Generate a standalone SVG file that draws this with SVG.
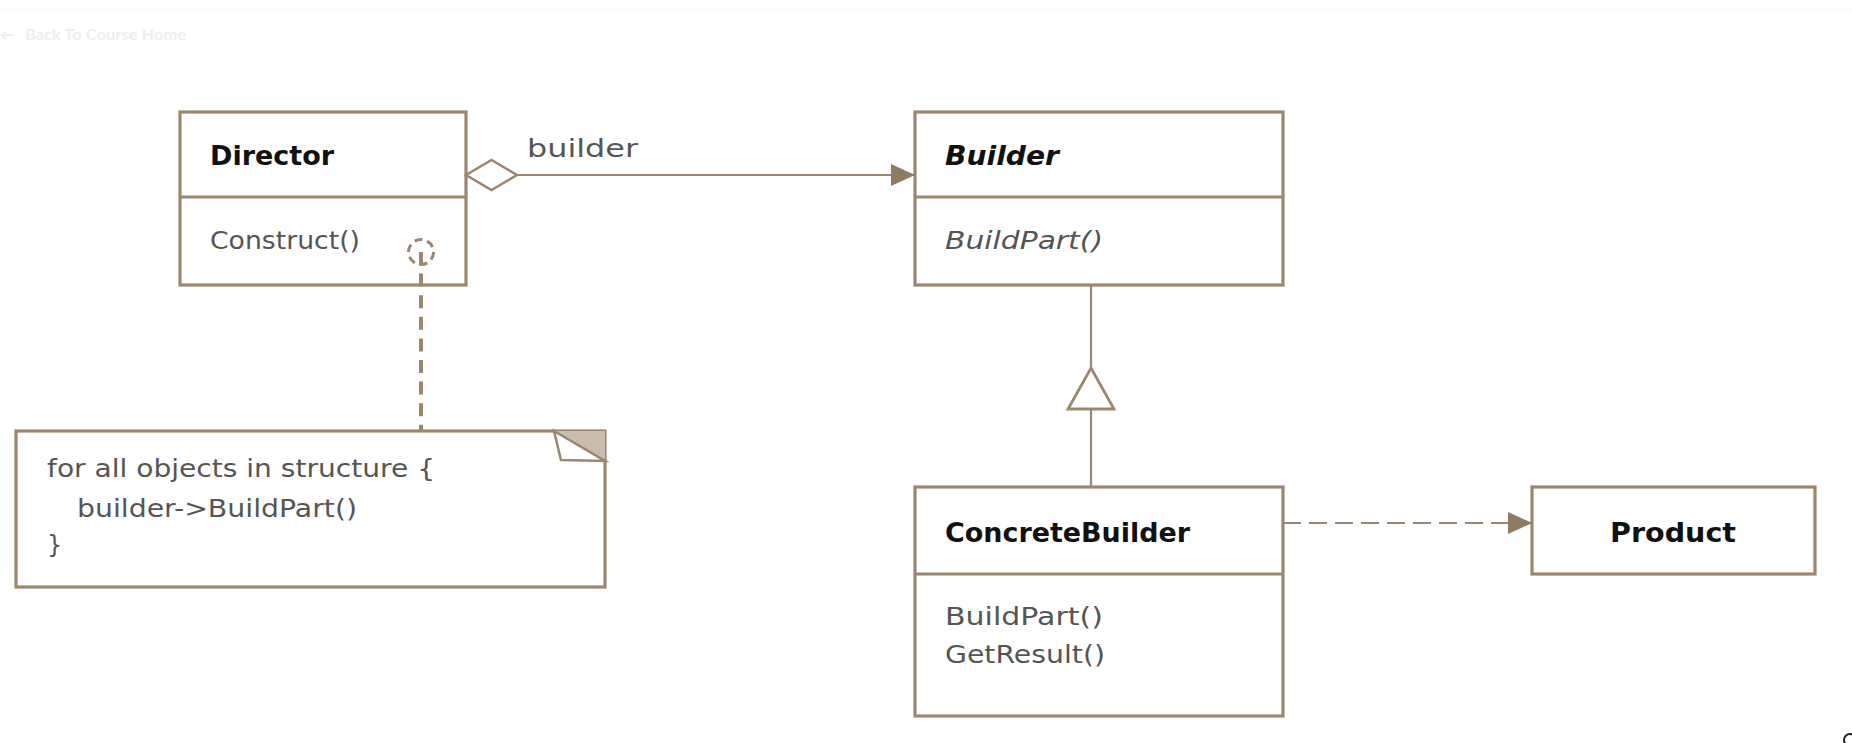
<svg xmlns="http://www.w3.org/2000/svg" width="1852" height="743" viewBox="0 0 1852 743">
<style>
.box{fill:#fff;stroke:#9b8670;stroke-width:3.2}
.div{stroke:#9b8670;stroke-width:3}
.ln{stroke:#9b8670;stroke-width:2.2;fill:none}
.t{font-family:"DejaVu Sans",sans-serif;font-size:25px;fill:#555}
.h{font-family:"DejaVu Sans",sans-serif;font-size:26px;font-weight:bold;fill:#111}
.n{font-family:"DejaVu Sans",sans-serif;font-size:24px;fill:#555}
</style>
<defs>
<marker id="arr" viewBox="0 0 24 22" refX="24" refY="11" markerWidth="24" markerHeight="22" markerUnits="userSpaceOnUse" orient="auto">
<path d="M0,0 L24,11 L0,22 Z" fill="#8f7a62"/>
</marker>
</defs>
<rect width="1852" height="743" fill="#fff"/>
<g id="topbar">
<line x1="0" y1="10" x2="1852" y2="10" stroke="#f8f8f8" stroke-width="1"/>
<text x="0" y="40" font-family="Lato, sans-serif" font-size="15" font-weight="bold" fill="#eeeeee">←</text>
<text x="25" y="40" font-family="Lato, sans-serif" font-size="15" font-weight="bold" fill="#eeeeee" textLength="161" lengthAdjust="spacingAndGlyphs">Back To Course Home</text>
</g>
<g id="director">
<rect class="box" x="180" y="112" width="286" height="173"/>
<line class="div" x1="180" y1="197" x2="466" y2="197"/>
<text class="h" x="210" y="165" textLength="124" lengthAdjust="spacingAndGlyphs">Director</text>
<text class="t" x="210" y="249" textLength="150" lengthAdjust="spacingAndGlyphs">Construct()</text>
</g>
<g id="builder">
<rect class="box" x="915" y="112" width="368" height="173"/>
<line class="div" x1="915" y1="197" x2="1283" y2="197"/>
<text class="h" x="945" y="165" font-style="italic" textLength="114" lengthAdjust="spacingAndGlyphs">Builder</text>
<text class="t" x="945" y="249" font-style="italic" textLength="158" lengthAdjust="spacingAndGlyphs">BuildPart()</text>
</g>
<g id="concretebuilder">
<rect class="box" x="915" y="487" width="368" height="229"/>
<line class="div" x1="915" y1="574" x2="1283" y2="574"/>
<text class="h" x="945" y="542" textLength="245" lengthAdjust="spacingAndGlyphs">ConcreteBuilder</text>
<text class="t" x="945" y="625" textLength="158" lengthAdjust="spacingAndGlyphs">BuildPart()</text>
<text class="t" x="945" y="663" textLength="160" lengthAdjust="spacingAndGlyphs">GetResult()</text>
</g>
<g id="product">
<rect class="box" x="1532" y="487" width="283" height="87"/>
<text class="h" x="1673" y="542" text-anchor="middle" textLength="126" lengthAdjust="spacingAndGlyphs">Product</text>
</g>
<g id="note">
<rect class="box" x="16" y="431" width="589" height="156"/>
<path d="M554,431 L605,431 L605,461 Z" fill="#c9bdb0" stroke="none"/>
<path d="M554,431 L561,460 L605,461 Z" fill="#fff" stroke="#9b8670" stroke-width="2.5" stroke-linejoin="miter"/>
<text class="n" x="47" y="477" textLength="388" lengthAdjust="spacingAndGlyphs">for all objects in structure {</text>
<text class="n" x="77" y="517" textLength="280" lengthAdjust="spacingAndGlyphs">builder-&gt;BuildPart()</text>
<text class="n" x="47" y="553">}</text>
</g>
<g id="connectors">
<line class="ln" x1="517" y1="175" x2="915" y2="175" marker-end="url(#arr)"/>
<path d="M466,175 L491.5,160 L517,175 L491.5,190 Z" fill="#fff" stroke="#9b8670" stroke-width="2.5"/>
<text x="527" y="157" class="t" font-size="30" fill="#333" textLength="111" lengthAdjust="spacingAndGlyphs">builder</text>
<line class="ln" x1="1091" y1="285" x2="1091" y2="368"/>
<line class="ln" x1="1091" y1="409" x2="1091" y2="487"/>
<path d="M1091,368 L1114,409 L1068,409 Z" fill="#fff" stroke="#9b8670" stroke-width="2.8"/>
<line class="ln" x1="1283" y1="523" x2="1532" y2="523" stroke-dasharray="18 8" marker-end="url(#arr)"/>
<circle cx="421" cy="252" r="12.5" fill="none" stroke="#9b8670" stroke-width="3" stroke-dasharray="8 5"/>
<line x1="421" y1="252" x2="421" y2="431" stroke="#9b8670" stroke-width="4" stroke-dasharray="13 8.6"/>
</g>
<g id="corner-icon">
<circle cx="1850" cy="740" r="6" fill="none" stroke="#222" stroke-width="2"/>
</g>
</svg>
